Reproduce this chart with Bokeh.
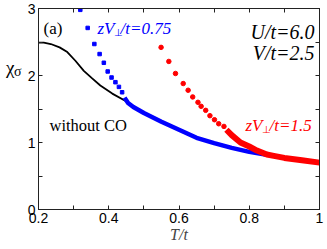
from bokeh.plotting import figure
from bokeh.models import Label, LinearAxis, FixedTicker, CustomJSTickFormatter
from bokeh.embed import file_html
from bokeh.resources import INLINE

# ---------------- data ----------------
black_T = [0.2, 0.215, 0.235, 0.26, 0.282, 0.305, 0.329, 0.352, 0.376, 0.41, 0.448, 0.455]
black_chi = [2.49, 2.49, 2.47, 2.42, 2.35, 2.22, 2.07, 1.96, 1.85, 1.73, 1.62, 1.60]

blue_sparse_T = [0.319, 0.340, 0.359, 0.374, 0.386, 0.397, 0.408, 0.419, 0.429, 0.438]
blue_sparse_chi = [2.98, 2.71, 2.47, 2.32, 2.19, 2.06, 1.97, 1.90, 1.83, 1.75]
blue_dense_T = [0.445, 0.455, 0.47, 0.50, 0.55, 0.60, 0.65, 0.70, 0.75, 0.80, 0.85]
blue_dense_chi = [1.67, 1.59, 1.53, 1.44, 1.31, 1.19, 1.07, 0.99, 0.92, 0.86, 0.815]

red_sparse_T = [0.549, 0.571, 0.590, 0.612, 0.626, 0.639, 0.654, 0.663, 0.676, 0.688, 0.701, 0.713, 0.728]
red_sparse_chi = [2.42, 2.21, 2.03, 1.88, 1.78, 1.68, 1.60, 1.54, 1.48, 1.40, 1.34, 1.28, 1.24]
red_dense_T = [0.735, 0.75, 0.775, 0.80, 0.822, 0.85, 0.87, 0.90, 0.95, 1.0]
red_dense_chi = [1.19, 1.11, 1.00, 0.94, 0.88, 0.82, 0.80, 0.77, 0.735, 0.70]

x_ticks = [0.2, 0.4, 0.6, 0.8, 1.0]
x_minor = [0.3, 0.5, 0.7, 0.9]
y_ticks = [0, 1, 2, 3]
y_minor = [0.5, 1.5, 2.5]

# ---------------- figure ----------------
p = figure(width=327, height=249, x_range=(0.2, 1.0), y_range=(0, 3),
           output_backend="svg", toolbar_location=None,
           min_border_left=38, min_border_right=8, min_border_top=8, min_border_bottom=40)
p.xgrid.grid_line_color = None
p.ygrid.grid_line_color = None
p.outline_line_color = "black"
p.outline_line_width = 1
p.background_fill_color = "white"
p.border_fill_color = "white"

SANS = "Liberation Sans"
SERIF = "Liberation Serif"

def ty(py):
    return 3 - (py - 8) * 3 / 201.0

def tx(px):
    return 0.2 + (px - 38) * 0.8 / 281.0

def style_axis(ax, ticks, minor, labels=True):
    ax.ticker = FixedTicker(ticks=ticks, minor_ticks=minor)
    ax.major_tick_in = 4
    ax.major_tick_out = 0
    ax.minor_tick_in = 4
    ax.minor_tick_out = 0
    ax.axis_line_color = "#222222"
    ax.major_tick_line_color = "#222222"
    ax.minor_tick_line_color = "#222222"
    if labels:
        ax.major_label_text_font = SANS
        ax.major_label_text_font_size = "14px"
        ax.major_label_text_color = "black"
        ax.major_label_standoff = 3
    else:
        ax.formatter = CustomJSTickFormatter(code="return ''")
        ax.major_label_text_font_size = "0px"
        ax.major_label_standoff = 0

style_axis(p.xaxis[0], x_ticks, x_minor)
p.xaxis[0].formatter = CustomJSTickFormatter(code="return tick == 1 ? '1' : tick.toFixed(1)")
p.xaxis[0].axis_label = "T/t"
p.xaxis[0].axis_label_text_font = SERIF
p.xaxis[0].axis_label_text_font_style = "italic"
p.xaxis[0].axis_label_text_font_size = "16px"
p.xaxis[0].axis_label_standoff = 0
style_axis(p.yaxis[0], y_ticks, y_minor)
p.yaxis[0].formatter = CustomJSTickFormatter(code="return tick.toFixed(0)")

top = LinearAxis()
style_axis(top, x_ticks, x_minor, labels=False)
p.add_layout(top, "above")
right = LinearAxis()
style_axis(right, y_ticks, y_minor, labels=False)
p.add_layout(right, "right")

# y-axis title chi_sigma, drawn as tick labels of two bare extra axes
def title_axis(text, py, size, standoff):
    ax = LinearAxis(ticker=FixedTicker(ticks=[ty(py)], minor_ticks=[]),
                    formatter=CustomJSTickFormatter(code="return '%s'" % text))
    ax.axis_line_color = None
    ax.major_tick_line_color = None
    ax.minor_tick_line_color = None
    ax.major_tick_in = 0
    ax.major_tick_out = 0
    ax.minor_tick_in = 0
    ax.minor_tick_out = 0
    ax.major_label_text_font = SERIF
    ax.major_label_text_font_size = size
    ax.major_label_text_color = "black"
    ax.major_label_standoff = standoff
    p.add_layout(ax, "left")

title_axis("\u03c3", 71, "14px", 3)
title_axis("\u03c7", 67, "19px", -4)

# ---------------- data glyphs ----------------
p.line(black_T, black_chi, line_color="black", line_width=1.8)
p.line(blue_dense_T, blue_dense_chi, line_color="#0000ff", line_width=4.5)
p.scatter(blue_sparse_T, blue_sparse_chi, marker="square", size=3.5, color="#0000ff")
p.line(red_dense_T, red_dense_chi, line_color="#ff0000", line_width=6)
p.scatter(red_sparse_T, red_sparse_chi, marker="circle", size=4.5, color="#ff0000")

# ---------------- texts (page-pixel placement converted to data) ----------------
def lab(text, px, py, size, color="black", font=SERIF, style="normal", align="left"):
    p.add_layout(Label(x=tx(px), y=ty(py), text=text, text_font=font, text_font_size=size,
                       text_font_style=style, text_color=color, text_align=align,
                       text_baseline="alphabetic"))

lab("(a)", 43, 28, "17px")
lab("zV", 97, 28, "17px", "#0000ff", style="italic")
lab("\u22a5", 113, 32, "10px", "#0000ff")
lab("/t=0.75", 120, 28, "17px", "#0000ff", style="italic")
lab("U/t=6.0", 314, 31, "20px", style="italic", align="right")
lab("V/t=2.5", 314, 52, "20px", style="italic", align="right")
lab("without CO", 49, 125, "16.5px")
lab("zV", 245, 125, "17px", "#ff0000", style="italic")
lab("\u22a5", 261, 129, "10px", "#ff0000")
lab("/t=1.5", 269, 125, "17px", "#ff0000", style="italic")

open("out.html", "w").write(file_html(p, INLINE))
